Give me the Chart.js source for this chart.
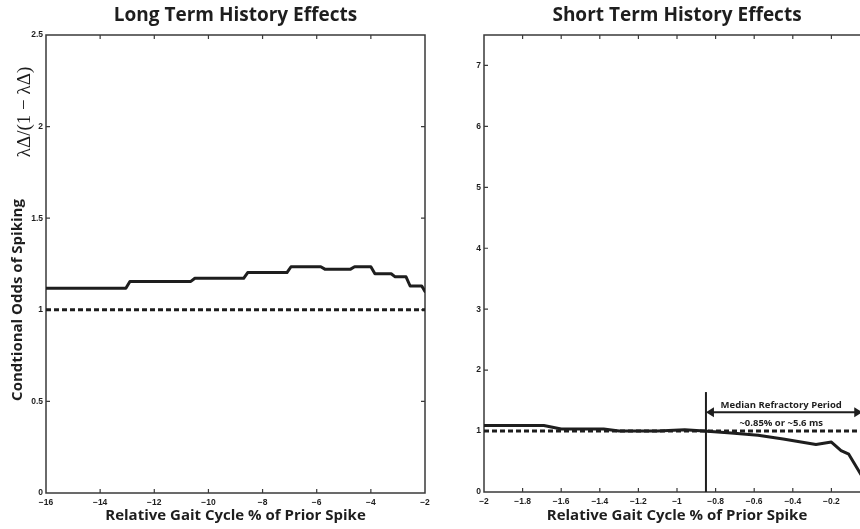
<!DOCTYPE html>
<html>
<head>
<meta charset="utf-8">
<script src="https://cdn.jsdelivr.net/npm/chart.js@4/dist/chart.umd.min.js"></script>
<style>
  html, body { margin: 0; padding: 0; background: #fff; overflow: hidden; width: 860px; height: 529px; }
  #wrap { position: relative; width: 860px; height: 529px; overflow: hidden; }
  canvas { position: absolute; top: 0; }
  #longCanvas { left: 0; }
  #shortCanvas { left: 430px; }
</style>
</head>
<body>
<div id="wrap">
  <canvas id="longCanvas" width="445" height="529"></canvas>
  <canvas id="shortCanvas" width="450" height="529"></canvas>
</div>
<script>
// Long term history: conditional odds vs. relative gait cycle (%)
const longX = [-16, -13.05, -12.9, -10.65, -10.5, -8.7, -8.55, -7.1, -6.95, -5.85, -5.7, -4.75, -4.6, -4.0, -3.85, -3.25, -3.1, -2.7, -2.55, -2.12, -2];
const longY = [1.117, 1.117, 1.155, 1.155, 1.172, 1.172, 1.203, 1.203, 1.235, 1.235, 1.222, 1.222, 1.235, 1.235, 1.197, 1.197, 1.18, 1.18, 1.13, 1.13, 1.10];

// Short term history
const shortX = [-2, -1.69, -1.6, -1.38, -1.3, -1.1, -0.96, -0.86, -0.72, -0.58, -0.45, -0.28, -0.2, -0.15, -0.11, -0.04, 0];
const shortY = [1.09, 1.09, 1.035, 1.035, 1.0, 1.0, 1.02, 1.0, 0.97, 0.93, 0.87, 0.78, 0.82, 0.68, 0.62, 0.25, 0.05];

// Axis ranges and tick steps
const longXRange = [-16, -2];
const longYRange = [0, 2.5];
const shortXRange = [-2, 0];
const shortYRange = [0, 7.5];
const longXStep = 2, longYStep = 0.5;
const shortXStep = 0.2, shortYStep = 1;

// Reference level (odds = 1)
const baseline = 1;

// Median refractory period marker
const refractoryX = -0.85;
const refractoryTop = 1.64;
const arrowSpan = [-0.85, -0.04];
const arrowY = 1.31;
const arrowLabels = ['Median Refractory Period', '~0.85% or ~5.6 ms'];
const arrowLabelX = -0.46;
const arrowLabelY = [1.43, 1.135];

const titles = ['Long Term History Effects', 'Short Term History Effects'];
const xTitle = 'Relative Gait Cycle % of Prior Spike';
const yTitle = 'Condtional Odds of Spiking';
const yFormula = 'λΔ/(1 − λΔ)';

const INK = '#1e1e1e';
const SANS = '"Open Sans", Lato, sans-serif';
const TICK_FONT = { family: '"Liberation Sans", Arial, sans-serif', size: 8.5, weight: 'bold' };

const fmtTick = v => {
  const r = Math.round(v * 100) / 100;
  return String(r).replace('-', '\u2212');
};

// Box around the plot with MATLAB style inward ticks on every side
const framePlugin = {
  id: 'frame',
  beforeDatasetsDraw(chart) {
    const { ctx, chartArea: a, scales } = chart;
    ctx.save();
    ctx.strokeStyle = '#3a3a3a';
    ctx.lineWidth = 1.5;
    ctx.strokeRect(a.left, a.top, a.right - a.left, a.bottom - a.top);
    ctx.lineWidth = 1.2;
    const L = 4;
    scales.x.ticks.forEach(t => {
      const p = scales.x.getPixelForValue(t.value);
      if (Math.abs(p - a.left) < 1 || Math.abs(p - a.right) < 1) return;
      ctx.beginPath();
      ctx.moveTo(p, a.bottom); ctx.lineTo(p, a.bottom - L);
      ctx.moveTo(p, a.top); ctx.lineTo(p, a.top + L);
      ctx.stroke();
    });
    scales.y.ticks.forEach(t => {
      const p = scales.y.getPixelForValue(t.value);
      if (Math.abs(p - a.top) < 1 || Math.abs(p - a.bottom) < 1) return;
      ctx.beginPath();
      ctx.moveTo(a.left, p); ctx.lineTo(a.left + L, p);
      ctx.moveTo(a.right, p); ctx.lineTo(a.right - L, p);
      ctx.stroke();
    });
    ctx.restore();
  }
};

// Rotated y-axis caption with the odds formula
const yCaptionPlugin = {
  id: 'yCaption',
  afterDraw(chart) {
    const { ctx } = chart;
    ctx.save();
    ctx.fillStyle = INK;
    ctx.textAlign = 'center';
    ctx.textBaseline = 'middle';
    ctx.translate(18, 300);
    ctx.rotate(-Math.PI / 2);
    ctx.font = 'bold 15px ' + SANS;
    ctx.fillText(yTitle, 0, 0);
    ctx.restore();
    ctx.save();
    ctx.fillStyle = INK;
    ctx.textAlign = 'center';
    ctx.textBaseline = 'middle';
    ctx.translate(25, 112);
    ctx.rotate(-Math.PI / 2);
    ctx.font = '19px "Liberation Serif", "DejaVu Serif", serif';
    ctx.fillText(yFormula, 0, 0);
    ctx.restore();
  }
};

// Double headed arrow and its labels for the refractory period
const arrowPlugin = {
  id: 'refractoryArrow',
  afterDatasetsDraw(chart) {
    const { ctx, scales: { x, y } } = chart;
    const x0 = x.getPixelForValue(arrowSpan[0]);
    const x1 = x.getPixelForValue(arrowSpan[1]);
    const py = y.getPixelForValue(arrowY);
    const head = 8, half = 5;
    ctx.save();
    ctx.strokeStyle = INK;
    ctx.fillStyle = INK;
    ctx.lineWidth = 2;
    ctx.beginPath();
    ctx.moveTo(x0 + head - 1, py); ctx.lineTo(x1 - head + 1, py);
    ctx.stroke();
    ctx.beginPath();
    ctx.moveTo(x0, py); ctx.lineTo(x0 + head, py - half); ctx.lineTo(x0 + head, py + half); ctx.closePath();
    ctx.fill();
    ctx.beginPath();
    ctx.moveTo(x1, py); ctx.lineTo(x1 - head, py - half); ctx.lineTo(x1 - head, py + half); ctx.closePath();
    ctx.fill();
    const cx = x.getPixelForValue(arrowLabelX);
    ctx.textAlign = 'center';
    ctx.textBaseline = 'middle';
    ctx.font = 'bold 9.5px ' + SANS;
    arrowLabels.forEach((txt, i) => ctx.fillText(txt, cx, y.getPixelForValue(arrowLabelY[i])));
    ctx.restore();
  }
};

function makeChart(canvasId, cfg) {
  const lineData = cfg.xs.map((v, i) => ({ x: v, y: cfg.ys[i] }));
  const datasets = [
    {
      data: [{ x: cfg.xRange[0], y: baseline }, { x: cfg.xRange[1], y: baseline }],
      borderColor: INK, borderWidth: 3, borderDash: [5, 3], pointRadius: 0, order: 2
    },
    {
      data: lineData,
      borderColor: INK, borderWidth: 3, pointRadius: 0, tension: 0,
      borderJoinStyle: 'round', borderCapStyle: 'round', order: 1
    }
  ];
  if (cfg.marker) {
    datasets.push({
      data: [{ x: refractoryX, y: 0 }, { x: refractoryX, y: refractoryTop }],
      borderColor: INK, borderWidth: 2, pointRadius: 0, order: 0
    });
  }
  return new Chart(document.getElementById(canvasId), {
    type: 'line',
    data: { datasets },
    plugins: cfg.plugins,
    options: {
      responsive: false,
      animation: false,
      events: [],
      layout: { autoPadding: false, padding: { left: 0, right: cfg.padRight, top: 0, bottom: 0 } },
      plugins: {
        legend: { display: false },
        tooltip: { enabled: false },
        title: {
          display: true, text: cfg.title, fullSize: false, color: INK,
          font: { family: SANS, size: 19, weight: 'bold', lineHeight: 1.2 },
          padding: { top: 4.5, bottom: cfg.titleGap }
        }
      },
      scales: {
        x: {
          type: 'linear', min: cfg.xRange[0], max: cfg.xRange[1],
          grid: { display: false, drawTicks: false },
          border: { display: false },
          ticks: {
            stepSize: cfg.xStep, autoSkip: false, maxRotation: 0, padding: 5,
            color: INK, font: TICK_FONT, callback: v => fmtTick(v)
          },
          title: {
            display: true, text: xTitle, color: INK,
            font: { family: SANS, size: 15, weight: 'bold', lineHeight: 1.2 },
            padding: { top: 0, bottom: 4 }
          },
          afterFit(s) { s.height = cfg.xAxisH; }
        },
        y: {
          type: 'linear', min: cfg.yRange[0], max: cfg.yRange[1],
          grid: { display: false, drawTicks: false },
          border: { display: false },
          ticks: {
            stepSize: cfg.yStep, autoSkip: false, padding: 3,
            color: INK, font: TICK_FONT, callback: v => fmtTick(v)
          },
          afterBuildTicks(s) {
            s.ticks = s.ticks.filter(t => Math.abs(t.value / cfg.yStep - Math.round(t.value / cfg.yStep)) < 1e-6);
          },
          afterFit(s) { s.width = cfg.yAxisW; }
        }
      }
    }
  });
}

makeChart('longCanvas', {
  xs: longX, ys: longY, xRange: longXRange, yRange: longYRange,
  xStep: longXStep, yStep: longYStep, title: titles[0],
  padRight: 20, yAxisW: 46, xAxisH: 36, titleGap: 7.7,
  plugins: [framePlugin, yCaptionPlugin]
});

makeChart('shortCanvas', {
  xs: shortX, ys: shortY, xRange: shortXRange, yRange: shortYRange,
  xStep: shortXStep, yStep: shortYStep, title: titles[1],
  padRight: 10, yAxisW: 54, xAxisH: 37, titleGap: 7.7, marker: true,
  plugins: [framePlugin, arrowPlugin]
});
</script>
</body>
</html>
